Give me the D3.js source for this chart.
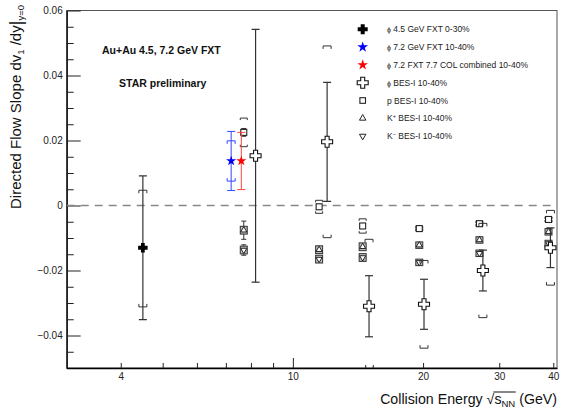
<!DOCTYPE html>
<html><head><meta charset="utf-8">
<script src="https://cdn.jsdelivr.net/npm/d3@7"></script>
<style>
body{margin:0;background:#fff}
svg{display:block}
text{font-family:"Liberation Sans",Arial,Helvetica,sans-serif}
</style>
</head><body>
<svg id="c" width="563" height="407"></svg>
<script>
// ---------------- data ----------------
const phi45Energy = [4.5];
const phi45Value = [-0.0130];
const phi45Stat = [0.0221];
const phi45SysUp = [0.0177];
const phi45SysDn = [0.0182];

const phi72Energy = [7.2];
const phi72Value = [0.0137];
const phi72Stat = [0.0091];
const phi72Sys = [0.0062];

const phiCombEnergy = [7.6];
const phiCombValue = [0.0137];
const phiCombStat = [0.0088];

const phiBesEnergy = [8.2, 12.0, 15.0, 20.1, 27.5, 39.4];
const phiBesValue = [0.0153, 0.0196, -0.0310, -0.0304, -0.0200, -0.0130];
const phiBesStat = [0.0389, 0.0183, 0.0094, 0.0077, 0.0063, 0.0061];
const phiBesSys = [0.0700, 0.0295, 0.0206, 0.0135, 0.0145, 0.0115];

const besEnergy = [7.7, 11.5, 14.5, 19.6, 27, 39];
const protonValue = [0.0225, -0.0004, -0.0063, -0.0071, -0.0056, -0.0043];
const protonStat = [0.0012, 0.0006, 0.0004, 0.0003, 0.0003, 0.0003];
const protonSys = [0.0044, 0.0020, 0.0022, 0.0007, 0.0008, 0.0008];
const kplusValue = [-0.0076, -0.0136, -0.0127, -0.0122, -0.0106, -0.0081];
const kplusStat = [0.0028, 0.0008, 0.0006, 0.0004, 0.0004, 0.0004];
const kminusValue = [-0.0137, -0.0165, -0.0160, -0.0175, -0.0147, -0.0117];
const kminusStat = [0.0016, 0.0010, 0.0008, 0.0006, 0.0005, 0.0005];
const kaonSys = [0.0012, 0.0012, 0.0012, 0.0010, 0.0010, 0.0010];

const yMajorTicks = [-0.04, -0.02, 0, 0.02, 0.04, 0.06];
const xLabelTicks = [4, 10, 20, 30, 40];
const xMinorTicks = [5, 6, 7, 8, 9];
const xFineTicks = [14.7, 15.3];

const legendPrefix = ['ϕ', 'ϕ', 'ϕ', 'ϕ', 'p', 'K', 'K'];
const legendSup = ['', '', '', '', '', '+', '−'];
const legendText = ['4.5 GeV FXT 0-30%', '7.2 GeV FXT 10-40%', '7.2 FXT 7.7 COL combined 10-40%',
  'BES-I 10-40%', 'BES-I 10-40%', 'BES-I 10-40%', 'BES-I 10-40%'];

// ---------------- layout ----------------
const L = 66.7, R = 557, T = 10.5, B = 368;
const x = d3.scaleLog().domain([3, 40.8]).range([L, R]);
const y = d3.scaleLinear().domain([-0.05, 0.06]).range([B, T]);
const svg = d3.select('#c');
const FONT = '"Liberation Sans",Arial,Helvetica,sans-serif';

svg.append('defs').append('clipPath').attr('id', 'clip')
  .append('rect').attr('x', L).attr('y', T).attr('width', R - L).attr('height', B - T);

// frame
svg.append('rect').attr('x', L).attr('y', T).attr('width', R - L).attr('height', B - T)
  .attr('fill', 'none').attr('stroke', '#555').attr('stroke-width', 1);

// y axis
const yMinor = d3.range(-50, 61, 5).map(v => v / 1000)
  .filter(v => !yMajorTicks.some(m => Math.abs(m - v) < 1e-9));
const gy = svg.append('g').attr('transform', `translate(${L},0)`)
  .attr('font-family', FONT).attr('font-size', 14.5);
gy.call(d3.axisLeft(y).tickValues(yMajorTicks).tickSizeInner(-14).tickSizeOuter(0).tickPadding(4)
  .tickFormat(d => d === 0 ? '0' : d3.format('.2f')(d)));
gy.select('.domain').attr('stroke', '#000').attr('stroke-width', 1.3);
gy.selectAll('.tick line').attr('stroke', '#222').attr('stroke-width', 1);
gy.selectAll('.tick text').attr('fill', '#222');
const gym = svg.append('g').attr('transform', `translate(${L},0)`);
gym.call(d3.axisLeft(y).tickValues(yMinor).tickSizeInner(-7).tickSizeOuter(0).tickFormat(''));
gym.select('.domain').remove();
gym.selectAll('.tick line').attr('stroke', '#222');

// x axis
const gx = svg.append('g').attr('transform', `translate(0,${B})`)
  .attr('font-family', FONT).attr('font-size', 8.5);
gx.call(d3.axisBottom(x).tickValues(xLabelTicks).tickSizeInner(-5).tickSizeOuter(0).tickPadding(5)
  .tickFormat(d => String(d)));
gx.select('.domain').attr('stroke', '#000').attr('stroke-width', 1.3);
gx.selectAll('.tick').filter(d => d === 10).select('line').attr('y2', -10);
gx.selectAll('.tick line').attr('stroke', '#222');
gx.selectAll('.tick text').attr('fill', '#222');
const gxm = svg.append('g').attr('transform', `translate(0,${B})`);
gxm.call(d3.axisBottom(x).tickValues(xMinorTicks).tickSizeInner(-5).tickSizeOuter(0).tickFormat(''));
gxm.select('.domain').remove();
gxm.selectAll('.tick line').attr('stroke', '#222');
const gxf = svg.append('g').attr('transform', `translate(0,${B})`);
gxf.call(d3.axisBottom(x).tickValues(xFineTicks).tickSizeInner(-3).tickSizeOuter(0).tickFormat(''));
gxf.select('.domain').remove();
gxf.selectAll('.tick line').attr('stroke', '#222');

// axis titles
const xt = svg.append('text').attr('x', R).attr('y', 403.5).attr('text-anchor', 'end')
  .attr('font-size', 14.2).attr('fill', '#111');
xt.append('tspan').text('Collision Energy ');
xt.append('tspan').text('√');
xt.append('tspan').text('s');
xt.append('tspan').attr('font-size', 9.5).attr('dy', 3).text('NN');
xt.append('tspan').attr('dy', -3).text(' (GeV)');
try {
  const n = xt.node();
  const x0 = n.getStartPositionOfChar(18).x - 1;
  const x1 = n.getEndPositionOfChar(20).x + 0.5;
  svg.append('line').attr('x1', x0).attr('x2', x1).attr('y1', 392).attr('y2', 392)
    .attr('stroke', '#111').attr('stroke-width', 1);
} catch (e) {}

const ytt = svg.append('text').attr('transform', 'translate(20.5,5) rotate(-90)')
  .attr('text-anchor', 'end').attr('font-size', 15).attr('fill', '#111');
ytt.append('tspan').text('Directed Flow Slope dv');
ytt.append('tspan').attr('font-size', 9.5).attr('dy', 3).text('1');
ytt.append('tspan').attr('dy', -3).text(' /dy');
ytt.append('tspan').attr('font-size', 18).attr('dy', 1).text('|');
ytt.append('tspan').attr('font-size', 9.5).attr('dy', 2).text('y=0');

// annotations
svg.append('text').attr('x', 102).attr('y', 54).attr('font-size', 10.5).attr('font-weight', 'bold')
  .attr('fill', '#111').text('Au+Au 4.5, 7.2 GeV FXT');
svg.append('text').attr('x', 119).attr('y', 86.5).attr('font-size', 10.5).attr('font-weight', 'bold')
  .attr('fill', '#111').text('STAR preliminary');

// ---------------- plot content ----------------
const plot = svg.append('g').attr('clip-path', 'url(#clip)');

plot.append('line').attr('x1', L).attr('x2', R).attr('y1', y(0)).attr('y2', y(0))
  .attr('stroke', '#888').attr('stroke-width', 1.4).attr('stroke-dasharray', '8,6');

function crossPath(s, w) {
  const h = s / 2;
  return `M${-w},${-h}L${w},${-h}L${w},${-w}L${h},${-w}L${h},${w}L${w},${w}L${w},${h}L${-w},${h}L${-w},${w}L${-h},${w}L${-h},${-w}L${-w},${-w}Z`;
}
function statBar(g, px, v, e, color, cap, sw) {
  g.append('line').attr('x1', px).attr('x2', px).attr('y1', y(v + e)).attr('y2', y(v - e))
    .attr('stroke', color).attr('stroke-width', sw);
  [v + e, v - e].forEach(t => g.append('line').attr('x1', px - cap).attr('x2', px + cap)
    .attr('y1', y(t)).attr('y2', y(t)).attr('stroke', color).attr('stroke-width', sw));
}
function bracket(g, px, yv, dir, color, hw, leg) {
  const py = y(yv);
  g.append('path').attr('d', `M${px - hw},${py + dir * leg}L${px - hw},${py}L${px + hw},${py}L${px + hw},${py + dir * leg}`)
    .attr('fill', 'none').attr('stroke', color).attr('stroke-width', 1);
}

// p / K BES-I
besEnergy.forEach((e, i) => {
  const px = x(e);
  statBar(plot, px, protonValue[i], protonStat[i], '#333', 2.5, 1);
  bracket(plot, px, protonValue[i] + protonSys[i], 1, '#333', 3.5, 2);
  bracket(plot, px, protonValue[i] - protonSys[i], -1, '#333', 3.5, 2);
  plot.append('rect').attr('x', px - 3).attr('y', y(protonValue[i]) - 3).attr('width', 6).attr('height', 6)
    .attr('fill', '#fff').attr('stroke', '#222').attr('stroke-width', 1.1);
  [[kplusValue, kplusStat, 0], [kminusValue, kminusStat, 180]].forEach(([vals, st, rot]) => {
    statBar(plot, px, vals[i], st[i], '#333', 2.5, 1);
    const y0 = y(vals[i] + kaonSys[i]), y1 = y(vals[i] - kaonSys[i]);
    plot.append('rect').attr('x', px - 3.5).attr('y', y0).attr('width', 7).attr('height', y1 - y0)
      .attr('fill', '#bbb').attr('stroke', '#333').attr('stroke-width', 1);
    plot.append('path').attr('d', d3.symbol(d3.symbolTriangle).size(16)())
      .attr('transform', `translate(${px},${y(vals[i])}) rotate(${rot})`)
      .attr('fill', '#fff').attr('stroke', '#111').attr('stroke-width', 0.9);
  });
});

// phi BES-I
phiBesEnergy.forEach((e, i) => {
  const px = x(e), v = phiBesValue[i];
  statBar(plot, px, v, phiBesStat[i], '#333', 4, 1.2);
  bracket(plot, px, v + phiBesSys[i], 1, '#333', 4, 3);
  bracket(plot, px, v - phiBesSys[i], -1, '#333', 4, 3);
  plot.append('path').attr('d', crossPath(11, 2))
    .attr('transform', `translate(${px},${y(v)})`)
    .attr('fill', '#fff').attr('stroke', '#111').attr('stroke-width', 1.1);
});

// phi 4.5 GeV FXT
phi45Energy.forEach((e, i) => {
  const px = x(e), v = phi45Value[i];
  statBar(plot, px, v, phi45Stat[i], '#333', 4, 1.2);
  bracket(plot, px, v + phi45SysUp[i], 1, '#333', 4, 3);
  bracket(plot, px, v - phi45SysDn[i], -1, '#333', 4, 3);
  plot.append('path').attr('d', crossPath(9.5, 1.9))
    .attr('transform', `translate(${px},${y(v)})`).attr('fill', '#000');
});

// phi 7.2 GeV FXT (blue)
phi72Energy.forEach((e, i) => {
  const px = x(e), v = phi72Value[i];
  statBar(plot, px, v, phi72Stat[i], '#3344ff', 4, 1);
  bracket(plot, px, v + phi72Sys[i], 1, '#3344ff', 4, 3);
  bracket(plot, px, v - phi72Sys[i], -1, '#3344ff', 4, 3);
  plot.append('path').attr('d', d3.symbol(d3.symbolStar).size(32)())
    .attr('transform', `translate(${px},${y(v)})`).attr('fill', '#0000ff');
});

// phi combined (red)
phiCombEnergy.forEach((e, i) => {
  const px = x(e), v = phiCombValue[i];
  statBar(plot, px, v, phiCombStat[i], '#ff4444', 4, 1);
  plot.append('path').attr('d', d3.symbol(d3.symbolStar).size(32)())
    .attr('transform', `translate(${px},${y(v)})`).attr('fill', '#ff0000');
});

// ---------------- legend ----------------
const legRowY = d3.range(legendText.length).map(i => 29.3 + i * 17.8);
const legMX = 362.7, legTX = 387;
const legMarkers = [
  g => g.append('path').attr('d', crossPath(10, 2)).attr('fill', '#000'),
  g => g.append('path').attr('d', d3.symbol(d3.symbolStar).size(36)()).attr('fill', '#0000ff'),
  g => g.append('path').attr('d', d3.symbol(d3.symbolStar).size(36)()).attr('fill', '#ff0000'),
  g => g.append('path').attr('d', crossPath(11, 2)).attr('fill', '#fff').attr('stroke', '#111').attr('stroke-width', 1.1),
  g => g.append('rect').attr('x', -2.8).attr('y', -2.8).attr('width', 5.6).attr('height', 5.6).attr('fill', '#fff').attr('stroke', '#222').attr('stroke-width', 1.1),
  g => g.append('path').attr('d', d3.symbol(d3.symbolTriangle).size(18)()).attr('fill', '#fff').attr('stroke', '#222').attr('stroke-width', 1),
  g => g.append('path').attr('d', d3.symbol(d3.symbolTriangle).size(18)()).attr('transform', 'rotate(180)').attr('fill', '#fff').attr('stroke', '#222').attr('stroke-width', 1)
];
legendText.forEach((t, i) => {
  const g = svg.append('g').attr('transform', `translate(${legMX},${legRowY[i]})`);
  legMarkers[i](g);
  const tx = svg.append('text').attr('x', legTX).attr('y', legRowY[i] + 3).attr('font-size', 8.5).attr('fill', '#222');
  if (legendPrefix[i] === 'ϕ') {
    tx.append('tspan').attr('font-size', 7).text('ϕ');
    tx.append('tspan').text(' ' + t);
  } else if (legendSup[i]) {
    tx.append('tspan').text(legendPrefix[i]);
    tx.append('tspan').attr('font-size', 5.5).attr('dy', -3.5).text(legendSup[i]);
    tx.append('tspan').attr('dy', 3.5).text('  ' + t);
  } else {
    tx.append('tspan').text(legendPrefix[i] + '  ' + t);
  }
});
</script>
</body></html>
